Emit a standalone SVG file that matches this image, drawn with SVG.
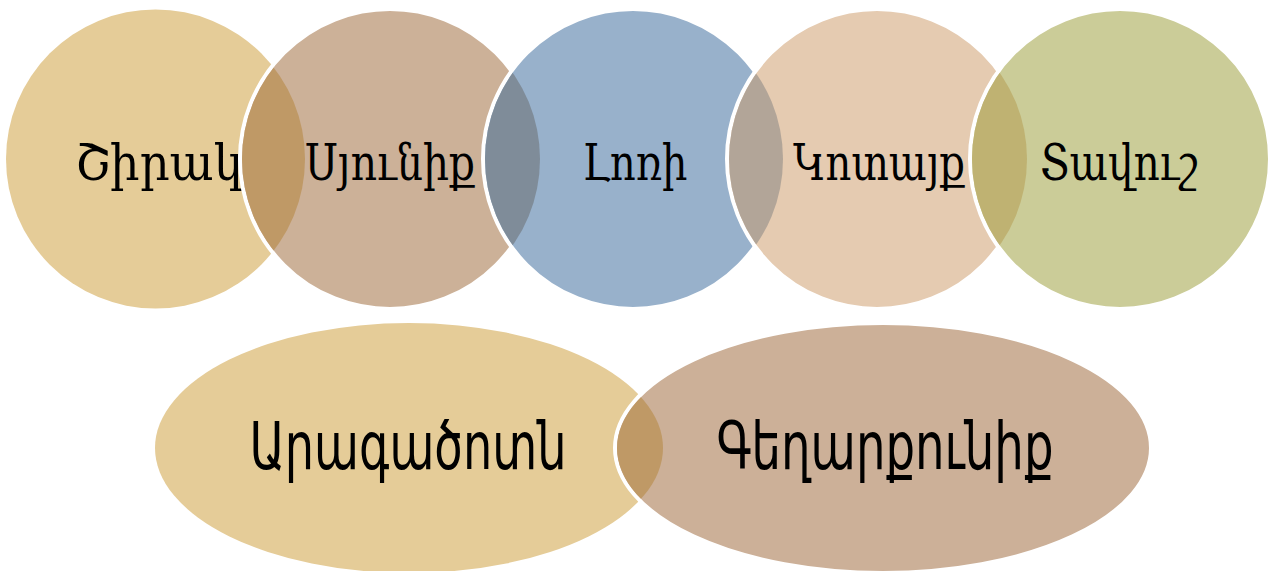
<svg xmlns="http://www.w3.org/2000/svg" width="1271" height="571" viewBox="0 0 1271 571">
<style>
.ring{stroke:#fff;stroke-width:4}
.top{font-family:"DejaVu Serif","Liberation Serif",serif;font-size:50px;fill:#000;text-anchor:middle}
.bot{font-family:"DejaVu Sans Condensed","DejaVu Sans","Liberation Sans",sans-serif;font-stretch:condensed;font-size:66px;fill:#000;text-anchor:middle}
</style>
<defs>
<clipPath id="c1"><circle cx="155.5" cy="159" r="149.5"/></clipPath>
<clipPath id="c2"><circle cx="390" cy="159" r="150"/></clipPath>
<clipPath id="c3"><circle cx="633" cy="159" r="150"/></clipPath>
<clipPath id="c4"><circle cx="877" cy="159" r="150"/></clipPath>
<clipPath id="e1"><ellipse cx="409" cy="448" rx="254" ry="125"/></clipPath>
</defs>
<rect width="1271" height="571" fill="#fff"/>
<g id="n1">
<circle cx="155.5" cy="159" r="149.5" fill="#E5CC98"/>
<text class="top" x="159" y="180" textLength="168" lengthAdjust="spacingAndGlyphs">Շիրակ</text>
</g>
<g id="n2">
<circle class="ring" cx="390" cy="159" r="150" fill="#CCB198"/>
<circle cx="390" cy="159" r="148" fill="#BF9966" clip-path="url(#c1)"/>
<text class="top" x="390" y="180" textLength="170" lengthAdjust="spacingAndGlyphs">Սյունիք</text>
</g>
<g id="n3">
<circle class="ring" cx="633" cy="159" r="150" fill="#98B1CB"/>
<circle cx="633" cy="159" r="148" fill="#7F8C99" clip-path="url(#c2)"/>
<text class="top" x="635" y="180" textLength="105" lengthAdjust="spacingAndGlyphs">Լոռի</text>
</g>
<g id="n4">
<circle class="ring" cx="877" cy="159" r="150" fill="#E5CBB1"/>
<circle cx="877" cy="159" r="148" fill="#B2A598" clip-path="url(#c3)"/>
<text class="top" x="879" y="180" textLength="172" lengthAdjust="spacingAndGlyphs">Կոտայք</text>
</g>
<g id="n5">
<circle class="ring" cx="1120" cy="159" r="150" fill="#CBCC98"/>
<circle cx="1120" cy="159" r="148" fill="#BFB272" clip-path="url(#c4)"/>
<text class="top" x="1119" y="180" textLength="158" lengthAdjust="spacingAndGlyphs">Տավուշ</text>
</g>
<g id="n6">
<ellipse cx="409" cy="448" rx="254" ry="125" fill="#E5CC98"/>
<text class="bot" x="408" y="469" textLength="317" lengthAdjust="spacingAndGlyphs">Արագածոտն</text>
</g>
<g id="n7">
<ellipse class="ring" cx="883" cy="448" rx="268" ry="125" fill="#CCB098"/>
<ellipse cx="883" cy="448" rx="266" ry="123" fill="#BF9966" clip-path="url(#e1)"/>
<text class="bot" x="885" y="469" textLength="337" lengthAdjust="spacingAndGlyphs">Գեղարքունիք</text>
</g>
<g id="connectors"/>
</svg>
